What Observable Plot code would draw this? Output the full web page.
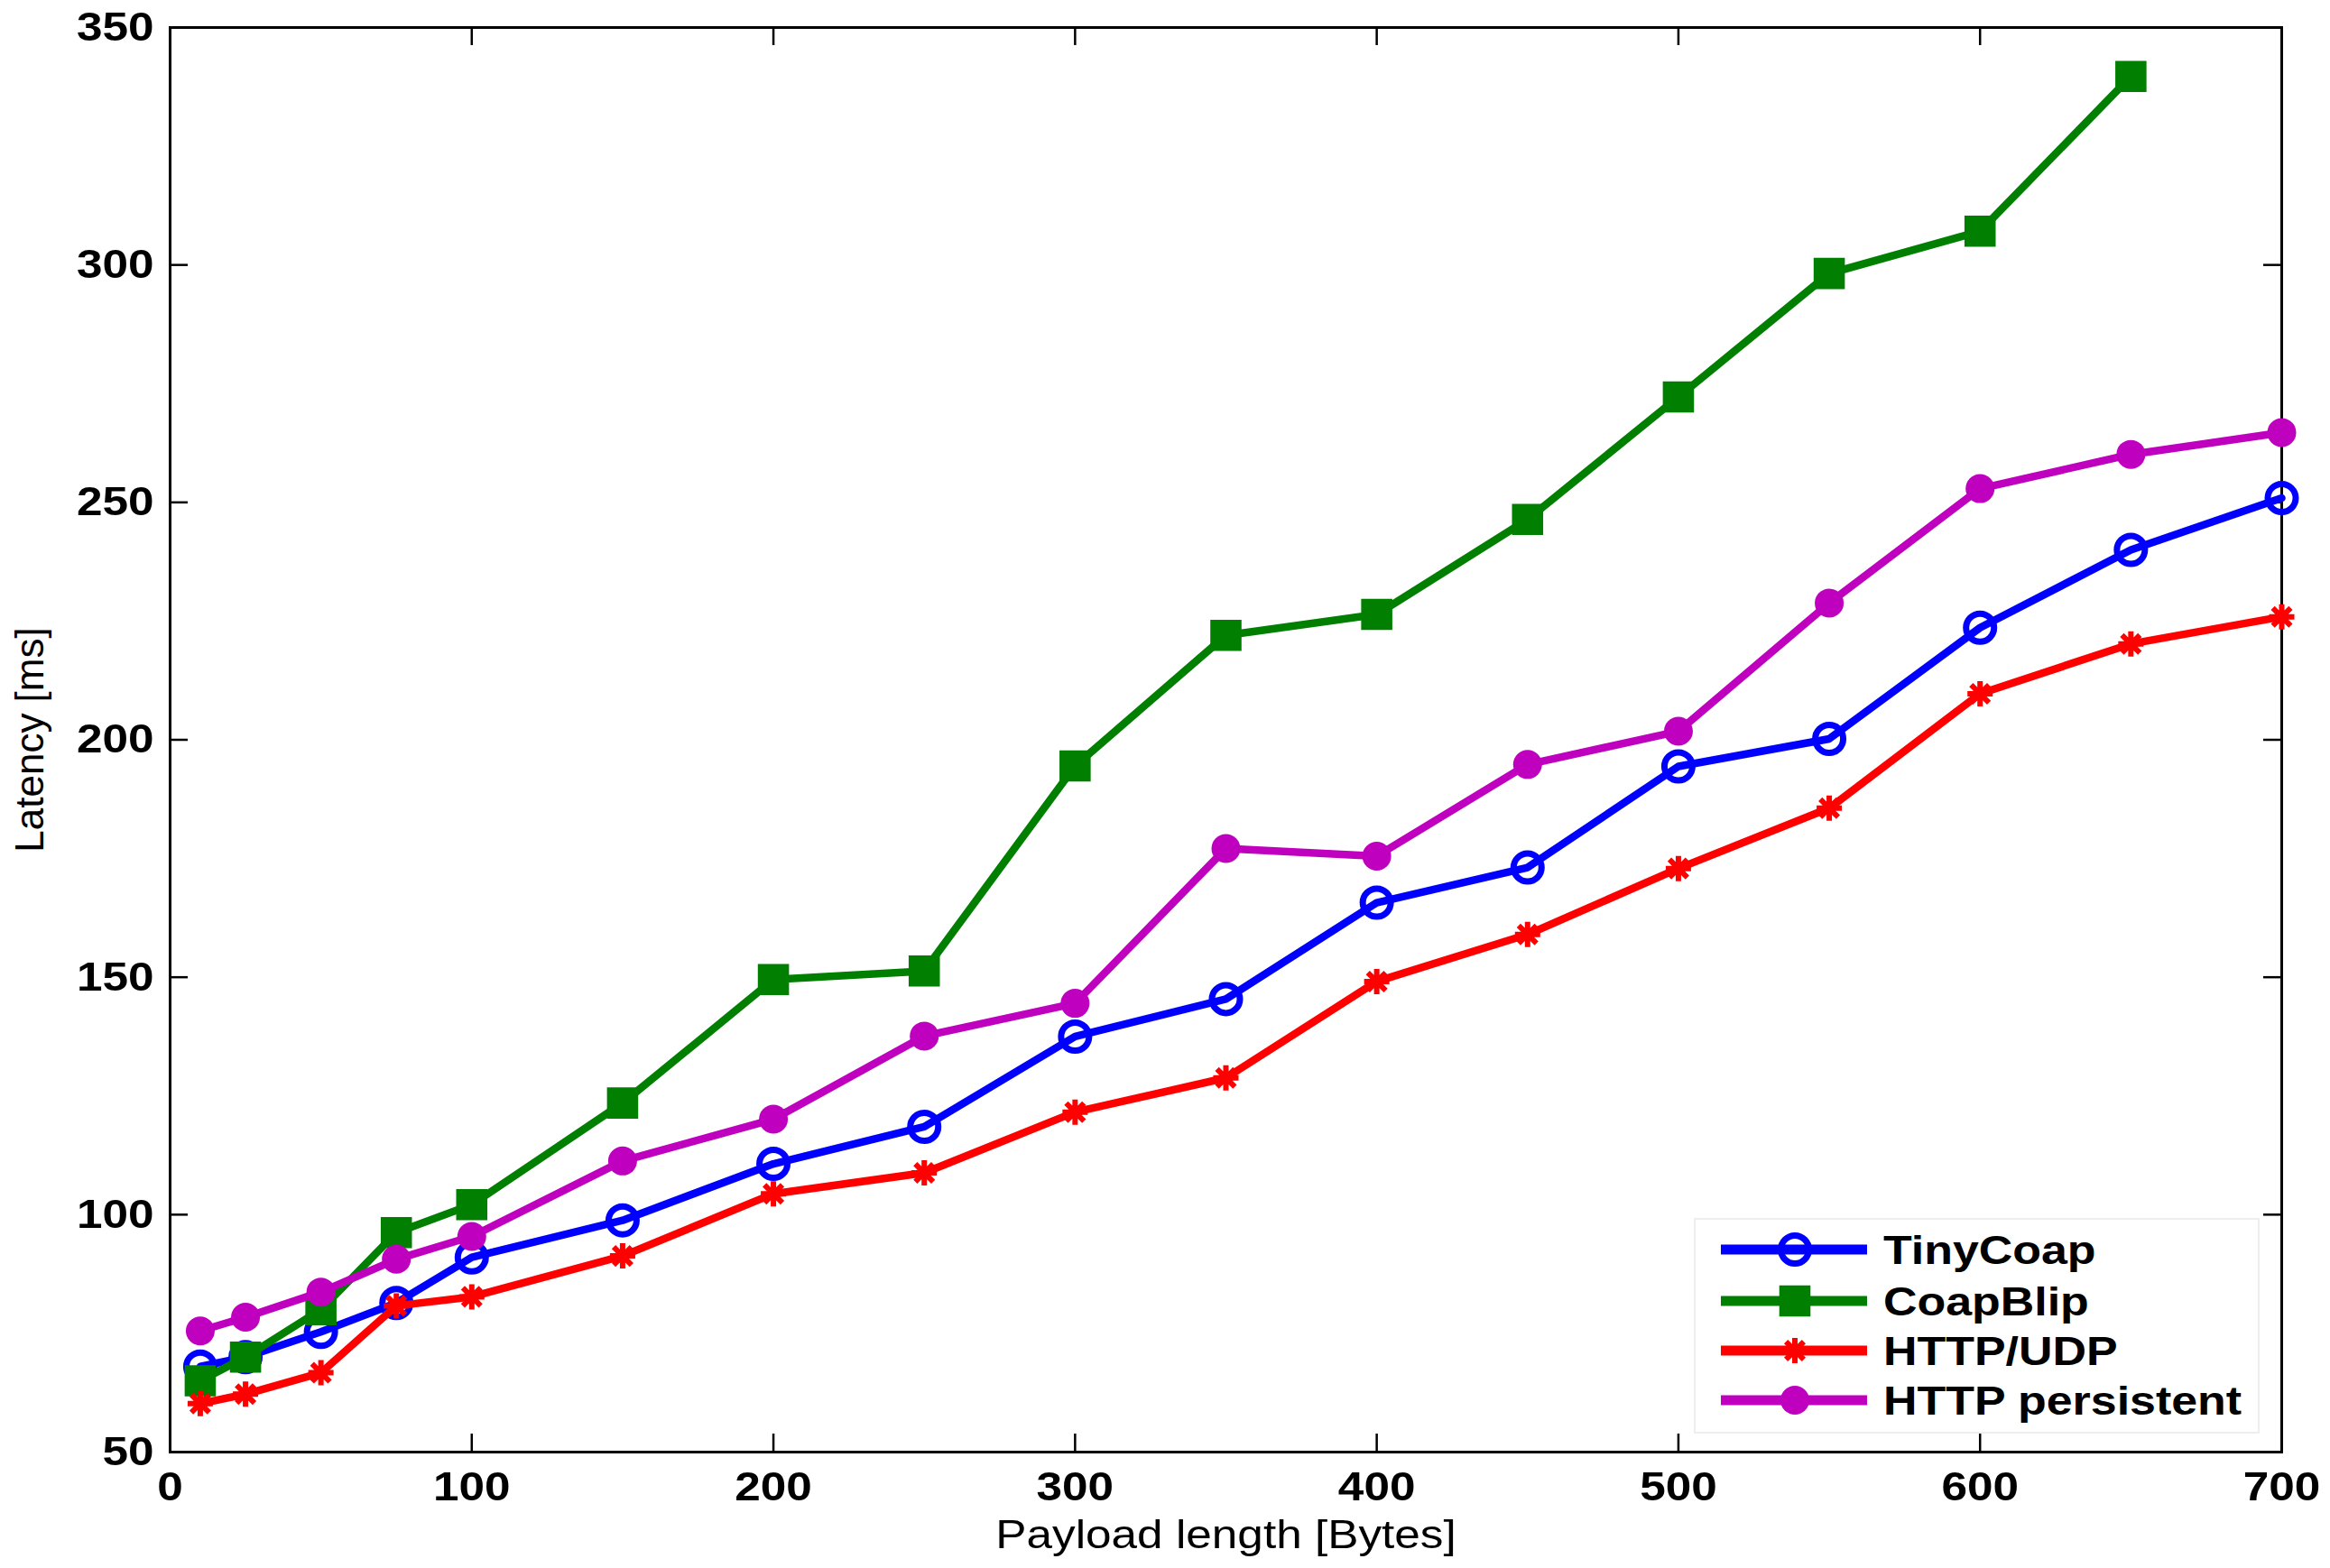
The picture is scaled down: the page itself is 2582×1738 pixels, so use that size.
<!DOCTYPE html>
<html><head><meta charset="utf-8">
<script src="https://cdn.jsdelivr.net/npm/d3@7"></script>
<script src="https://cdn.jsdelivr.net/npm/@observablehq/plot@0.6"></script>
<style>html,body{margin:0;padding:0;background:#fff;} svg{display:block}</style>
</head><body><div id="chart"></div>
<script>
// ---- data ----
const payload = [10, 25, 50, 75, 100, 150, 200, 250, 300, 350, 400, 450, 500, 550, 600, 650, 700];
const tinyCoap = [68, 70, 75.3, 81.4, 91, 98.8, 110.7, 118.5, 137.5, 145.4, 165.7, 173.1, 194.4, 200.2, 223.6, 240, 250.9];
const coapBlip = [65, 70, 80, 96.2, 102.1, 123.5, 149.5, 151.3, 194.5, 222, 226.4, 246.4, 272.2, 298.2, 307.1, 339.7];
const httpUdp = [60.2, 62.2, 66.7, 80.8, 82.7, 91.3, 104.4, 108.8, 121.6, 128.8, 149.1, 159, 172.9, 185.6, 209.7, 220.2, 225.9];
const httpPersistent = [75.5, 78.4, 83.7, 90.6, 95.4, 111.3, 120.1, 137.6, 144.5, 177.1, 175.5, 194.8, 201.8, 228.8, 252.9, 260.1, 264.7];
const seriesNames = ["TinyCoap", "CoapBlip", "HTTP/UDP", "HTTP persistent"];
const xTicks = [0, 100, 200, 300, 400, 500, 600, 700];
const yTicks = [50, 100, 150, 200, 250, 300, 350];
const xTitle = "Payload length [Bytes]";
const yTitle = "Latency [ms]";

// ---- layout ----
const W = 2582, H = 1738, mL = 188, mR = 54, mT = 30, mB = 129;
const innerW = W - mL - mR, innerH = H - mT - mB;
const FONT = "'Liberation Sans', Arial, Helvetica, sans-serif";

const asterisk = {
  draw(ctx, size) {
    const r = Math.sqrt(size / Math.PI), d = r * Math.SQRT1_2;
    ctx.moveTo(-r, 0); ctx.lineTo(r, 0);
    ctx.moveTo(0, -r); ctx.lineTo(0, r);
    ctx.moveTo(-d, -d); ctx.lineTo(d, d);
    ctx.moveTo(-d, d); ctx.lineTo(d, -d);
  }
};

const styles = [
  {color: "#0000ff", symbol: "circle", filled: false, r: 15.5, msw: 7},
  {color: "#007f00", symbol: "square", filled: true, r: 19.5, msw: 0},
  {color: "#ff0000", symbol: asterisk, filled: false, r: 14, msw: 6},
  {color: "#bf00bf", symbol: "circle", filled: true, r: 16, msw: 0}
];
const seriesValues = [tinyCoap, coapBlip, httpUdp, httpPersistent];

const seriesMarks = seriesValues.flatMap((vals, k) => {
  const rows = vals.map((v, i) => ({x: payload[i], y: v, s: seriesNames[k]}));
  const st = styles[k];
  return [
    Plot.line(rows, {x: "x", y: "y", stroke: st.color, strokeWidth: 8.5, strokeLinejoin: "round", strokeLinecap: "round"}),
    Plot.dot(rows, {x: "x", y: "y", symbol: st.symbol, r: st.r,
      fill: st.filled ? st.color : "none",
      stroke: st.filled ? "none" : st.color,
      strokeWidth: st.msw})
  ];
});

const chart = Plot.plot({
  width: W, height: H,
  marginLeft: mL, marginRight: mR, marginTop: mT, marginBottom: mB,
  style: {fontFamily: FONT, background: "#fff", overflow: "visible", color: "#000"},
  x: {domain: [0, 700]},
  y: {domain: [50, 350]},
  marks: [
    Plot.frame({stroke: "#000", strokeWidth: 3}),
    Plot.tickX(xTicks, {x: d => d, insetTop: innerH - 20, stroke: "#000", strokeWidth: 2.5}),
    Plot.tickX(xTicks, {x: d => d, insetBottom: innerH - 20, stroke: "#000", strokeWidth: 2.5}),
    Plot.tickY(yTicks, {y: d => d, insetRight: innerW - 20, stroke: "#000", strokeWidth: 2.5}),
    Plot.tickY(yTicks, {y: d => d, insetLeft: innerW - 20, stroke: "#000", strokeWidth: 2.5}),
    Plot.axisX(xTicks, {tickSize: 0, tickPadding: 22, fontSize: 45, fontWeight: "bold", label: null, fill: "#000"}),
    Plot.axisY(yTicks, {tickSize: 0, tickPadding: 18, fontSize: 45, fontWeight: "bold", label: null, fill: "#000"}),
    Plot.text([xTitle], {text: d => d, frameAnchor: "bottom", dy: 92, fontSize: 45, lineAnchor: "middle", textAnchor: "middle", fill: "#000"}),
    Plot.text([yTitle], {text: d => d, frameAnchor: "left", dx: -155, rotate: -90, fontSize: 44, lineAnchor: "middle", textAnchor: "middle", fill: "#000"}),
    ...seriesMarks
  ]
});

// widen horizontal texts (reference glyphs are horizontally stretched)
d3.select(chart).selectAll("text").each(function() {
  const t = this.getAttribute("transform") || "";
  if (t.includes("rotate")) return;
  this.setAttribute("transform", t + " scale(1.14,1)");
});

// ---- legend ----
const svg = d3.select(chart);
const lg = svg.append("g").attr("font-family", FONT).attr("text-anchor", "start");
lg.append("rect").attr("x", 1878).attr("y", 1351).attr("width", 625).attr("height", 237)
  .attr("fill", "#fff").attr("stroke", "#eeeeee").attr("stroke-width", 2);
const rowY = [1385, 1442, 1497, 1552];
seriesNames.forEach((name, k) => {
  const st = styles[k], y = rowY[k];
  lg.append("line").attr("x1", 1907).attr("x2", 2069).attr("y1", y).attr("y2", y)
    .attr("stroke", st.color).attr("stroke-width", 11);
  const type = st.symbol === "circle" ? d3.symbolCircle : st.symbol === "square" ? d3.symbolSquare : st.symbol;
  lg.append("path").attr("transform", `translate(1989,${y})`)
    .attr("d", d3.symbol(type, st.r * st.r * Math.PI)())
    .attr("fill", st.filled ? st.color : "none")
    .attr("stroke", st.filled ? "none" : st.color)
    .attr("stroke-width", st.msw);
  lg.append("text").attr("transform", `translate(2087,${y + 16}) scale(1.18,1)`).attr("font-size", 44)
    .attr("font-weight", "bold").attr("fill", "#000").attr("text-anchor", "start").text(name);
});

document.getElementById("chart").appendChild(chart);
</script>
</body></html>
